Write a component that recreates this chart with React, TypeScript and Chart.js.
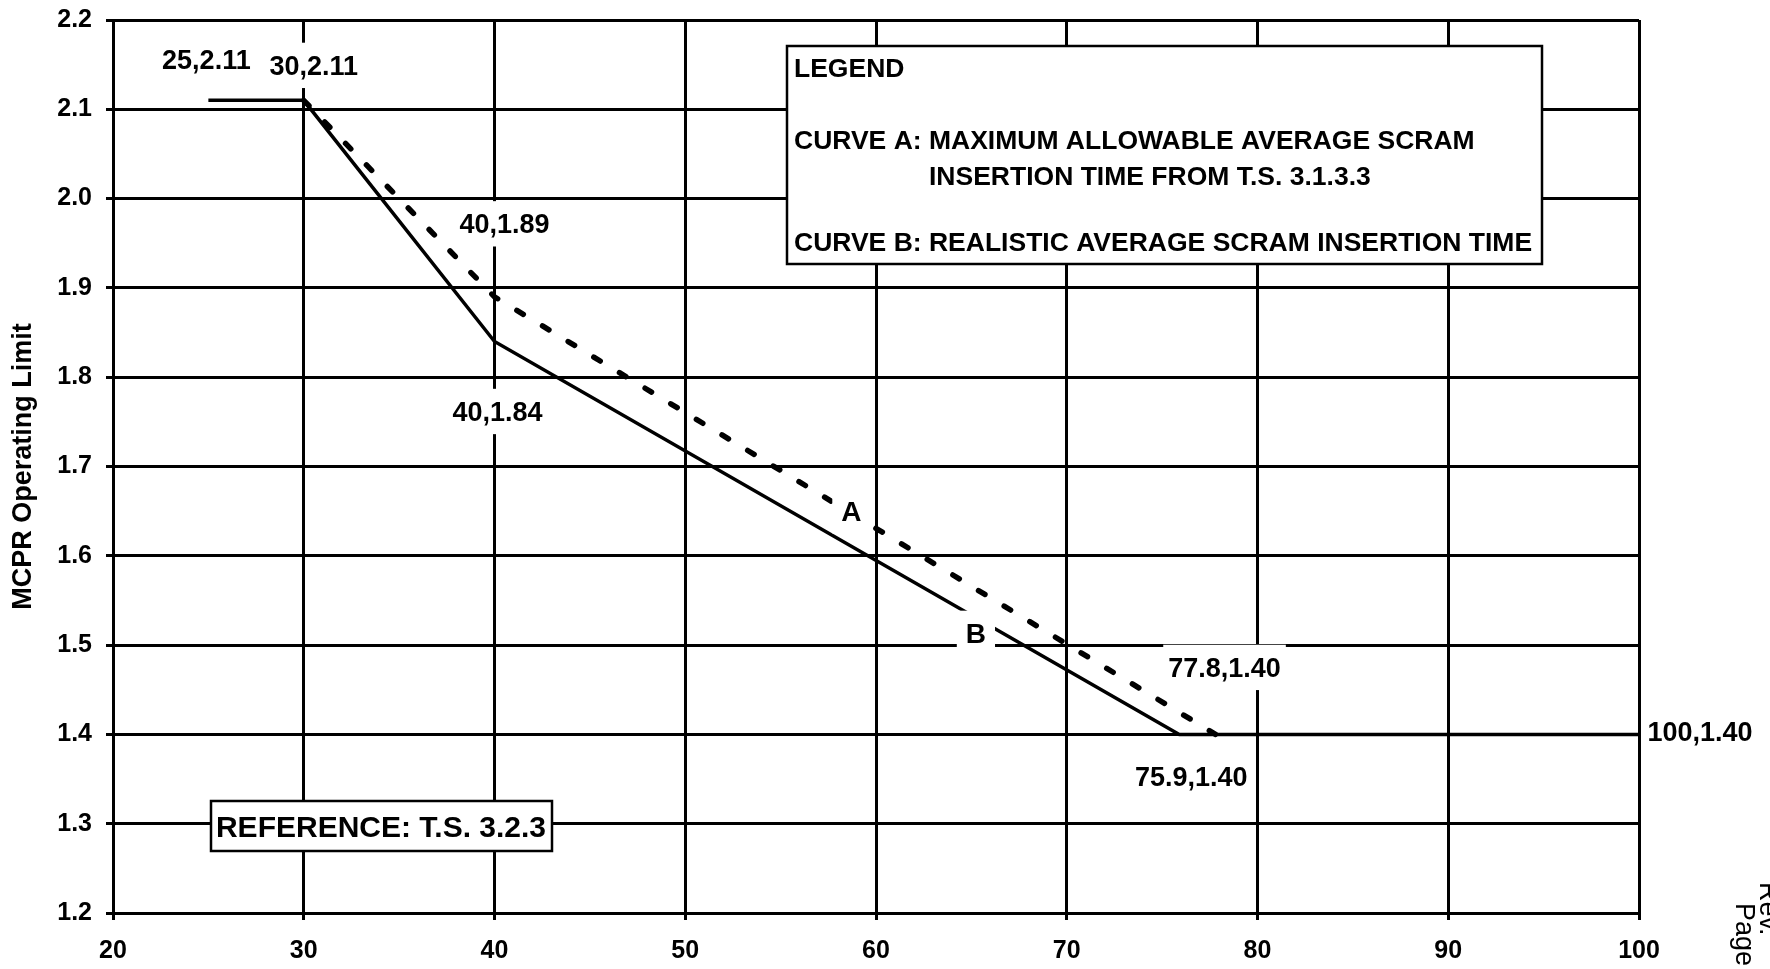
import React, { useEffect, useRef } from 'react';
import { Chart, registerables } from 'chart.js';

Chart.register(...registerables);

// ---------------- data ----------------
const X_MIN = 20;
const X_MAX = 100;
const X_STEP = 10;
const Y_MIN = 1.2;
const Y_MAX = 2.2;
const Y_STEP = 0.1;

// Curve A: maximum allowable average scram insertion time (dashed)
const CURVE_A_X = [25, 30, 40, 77.8, 100];
const CURVE_A_Y = [2.11, 2.11, 1.89, 1.4, 1.4];
// Curve B: realistic average scram insertion time (solid)
const CURVE_B_X = [25, 30, 40, 75.9, 100];
const CURVE_B_Y = [2.11, 2.11, 1.84, 1.4, 1.4];

const CURVE_NAMES = ['A', 'B'];
const Y_AXIS_TITLE = 'MCPR Operating Limit';
const LEGEND_LINES = [
  'LEGEND',
  'CURVE A: MAXIMUM ALLOWABLE AVERAGE SCRAM',
  'INSERTION TIME FROM T.S. 3.1.3.3',
  'CURVE B: REALISTIC AVERAGE SCRAM INSERTION TIME',
];
const REFERENCE_TEXT = 'REFERENCE: T.S. 3.2.3';
const PAGE_NOTE = ['Rev.', 'Page'];

// which points get a "x,y" label (dataset index, point index) and where
const POINT_LABELS = [
  { ds: 1, idx: 0, dx: -2, dy: -41, bg: true },
  { ds: 1, idx: 1, dx: 10, dy: -35, bg: true },
  { ds: 0, idx: 2, dx: 10, dy: -73, bg: true },
  { ds: 1, idx: 2, dx: 3, dy: 70, bg: true },
  { ds: 0, idx: 3, dx: 9, dy: -67, bg: true },
  { ds: 1, idx: 3, dx: 12, dy: 42, bg: true },
  { ds: 1, idx: 4, dx: 61, dy: -3, bg: false },
];
// curve letters placed along segment idx->idx+1 at fraction t
const CURVE_LETTERS = [
  { ds: 0, idx: 2, t: 0.495, dx: 0, dy: -2 },
  { ds: 1, idx: 2, t: 0.703, dx: 0, dy: 15 },
];

const FONT = "'Liberation Sans', Arial, Helvetica, sans-serif";

const toPoints = (xs: number[], ys: number[]) => xs.map((x, i) => ({ x, y: ys[i] }));

function drawLabel(
  ctx: CanvasRenderingContext2D,
  text: string,
  cx: number,
  cy: number,
  size: number,
  padX: number,
  padY: number,
  bg: boolean
) {
  ctx.font = `bold ${size}px ${FONT}`;
  const w = ctx.measureText(text).width;
  const cap = size * 0.716;
  if (bg) {
    ctx.fillStyle = '#ffffff';
    ctx.fillRect(cx - w / 2 - padX, cy - cap / 2 - padY, w + 2 * padX, cap + 2 * padY);
  }
  ctx.fillStyle = '#000000';
  ctx.textAlign = 'center';
  ctx.textBaseline = 'alphabetic';
  ctx.fillText(text, cx, cy + cap / 2);
}

const annotationPlugin = {
  id: 'annotations',
  afterDatasetsDraw(chart: any) {
    const ctx: CanvasRenderingContext2D = chart.ctx;
    ctx.save();

    // coordinate labels
    POINT_LABELS.forEach((l) => {
      const meta = chart.getDatasetMeta(l.ds);
      const el = meta.data[l.idx];
      const raw = chart.data.datasets[l.ds].data[l.idx];
      const text = `${raw.x},${raw.y.toFixed(2)}`;
      drawLabel(ctx, text, el.x + l.dx, el.y + l.dy, 27, 5, 13, l.bg);
    });

    // curve letters
    CURVE_LETTERS.forEach((c, i) => {
      const meta = chart.getDatasetMeta(c.ds);
      const p0 = meta.data[c.idx];
      const p1 = meta.data[c.idx + 1];
      const x = p0.x + (p1.x - p0.x) * c.t + c.dx;
      const y = p0.y + (p1.y - p0.y) * c.t + c.dy;
      drawLabel(ctx, CURVE_NAMES[i], x, y, 28, 9, 12, true);
    });

    // legend box
    ctx.fillStyle = '#ffffff';
    ctx.fillRect(787, 46, 755, 218);
    ctx.strokeStyle = '#000000';
    ctx.lineWidth = 2.5;
    ctx.strokeRect(787, 46, 755, 218);
    ctx.fillStyle = '#000000';
    ctx.font = `bold 26.5px ${FONT}`;
    ctx.textAlign = 'left';
    ctx.textBaseline = 'alphabetic';
    const cap = 26.5 * 0.716;
    const legendPos = [
      [794, 68],
      [794, 140],
      [929, 176],
      [794, 242],
    ];
    LEGEND_LINES.forEach((t, i) => {
      ctx.fillText(t, legendPos[i][0], legendPos[i][1] + cap / 2);
    });

    // reference box
    ctx.fillStyle = '#ffffff';
    ctx.fillRect(211, 801, 341, 50);
    ctx.strokeRect(211, 801, 341, 50);
    drawLabel(ctx, REFERENCE_TEXT, 381, 826, 30, 0, 0, false);

    // rotated page note on the right edge
    ctx.font = `27px ${FONT}`;
    ctx.fillStyle = '#000000';
    ctx.textAlign = 'left';
    ctx.textBaseline = 'middle';
    const notePos = [
      [1767, 882],
      [1743, 903],
    ];
    PAGE_NOTE.forEach((t, i) => {
      ctx.save();
      ctx.translate(notePos[i][0], notePos[i][1]);
      ctx.rotate(Math.PI / 2);
      ctx.fillText(t, 0, 0);
      ctx.restore();
    });

    ctx.restore();
  },
};

export default function App() {
  const canvasRef = useRef<HTMLCanvasElement | null>(null);

  useEffect(() => {
    if (!canvasRef.current) return;
    const grid = {
      color: '#000000',
      lineWidth: 3,
      drawTicks: true,
      tickLength: 7,
      tickColor: '#000000',
      tickWidth: 3,
    };
    const chart = new Chart(canvasRef.current, {
      type: 'line',
      data: {
        datasets: [
          {
            label: 'Curve A',
            data: toPoints(CURVE_A_X, CURVE_A_Y),
            borderColor: '#000000',
            borderWidth: 5.5,
            borderDash: [7.5, 22.5],
            borderCapStyle: 'round',
            pointRadius: 0,
            tension: 0,
            fill: false,
            segment: {
              borderColor: (c: any) =>
                c.p0.parsed.y === c.p1.parsed.y ? 'rgba(0,0,0,0)' : '#000000',
            },
          },
          {
            label: 'Curve B',
            data: toPoints(CURVE_B_X, CURVE_B_Y),
            borderColor: '#000000',
            borderWidth: 3.5,
            pointRadius: 0,
            tension: 0,
            fill: false,
          },
        ],
      },
      options: {
        animation: false,
        responsive: false,
        devicePixelRatio: 1,
        layout: { padding: { top: 20, right: 131, bottom: 0, left: 0 } },
        plugins: {
          legend: { display: false },
          tooltip: { enabled: false },
        },
        scales: {
          x: {
            type: 'linear',
            min: X_MIN,
            max: X_MAX,
            grid,
            border: { display: true, color: '#000000', width: 3 },
            ticks: {
              stepSize: X_STEP,
              color: '#000000',
              padding: 16,
              font: { family: FONT, size: 25, weight: 'bold' },
              callback: (v: any) => String(v),
            },
            afterFit: (s: any) => {
              s.height = 56;
              s.paddingLeft = 0;
              s.paddingRight = 0;
            },
          },
          y: {
            type: 'linear',
            min: Y_MIN,
            max: Y_MAX,
            grid,
            border: { display: true, color: '#000000', width: 3 },
            ticks: {
              stepSize: Y_STEP,
              color: '#000000',
              padding: 14,
              font: { family: FONT, size: 25, weight: 'bold' },
              callback: (v: any) => Number(v).toFixed(1),
            },
            title: {
              display: true,
              text: Y_AXIS_TITLE,
              color: '#000000',
              font: { family: FONT, size: 27, weight: 'bold' },
              padding: { top: 7, bottom: 0 },
            },
            afterFit: (s: any) => {
              s.width = 113;
              s.paddingTop = 0;
              s.paddingBottom = 0;
            },
          },
        },
      },
      plugins: [annotationPlugin],
    } as any);
    return () => chart.destroy();
  }, []);

  return (
    <div
      style={{
        position: 'fixed',
        left: 0,
        top: 0,
        width: 1770,
        height: 969,
        background: '#ffffff',
      }}
    >
      <canvas ref={canvasRef} width={1770} height={969} style={{ display: 'block' }} />
    </div>
  );
}
